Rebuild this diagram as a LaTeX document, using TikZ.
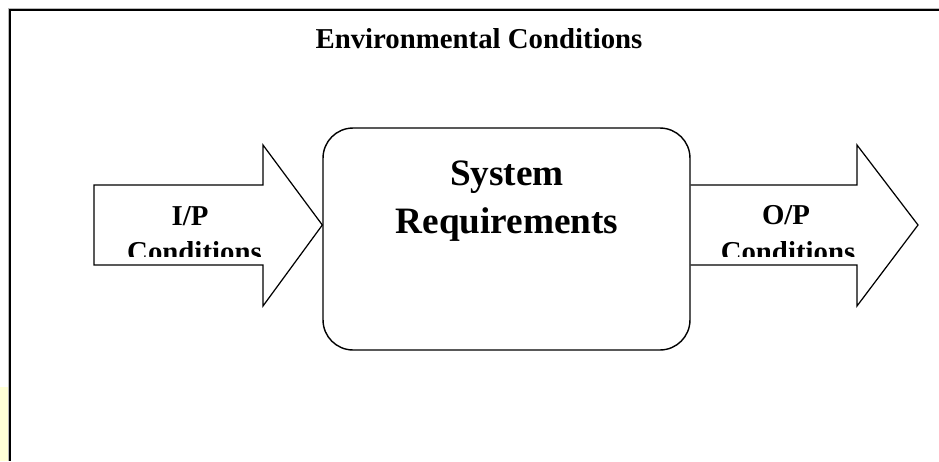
\documentclass[tikz,border=0pt]{standalone}
\usepackage{fontspec}
\setmainfont{Liberation Serif}
\usepackage{xcolor}
\definecolor{pagestrip}{RGB}{255,255,214}

\begin{document}
\begin{tikzpicture}[x=0.02cm,y=-0.02cm,
  blockarrow/.style={draw,line width=0.7pt,line join=miter},
  lbl/.style={anchor=base,inner sep=0pt,font=\bfseries\fontsize{16.4}{19}\selectfont},
  biglbl/.style={anchor=base,inner sep=0pt,font=\bfseries\fontsize{21.2}{25}\selectfont}]
\useasboundingbox (0,0) rectangle (939,461);
\fill[pagestrip] (0,387) rectangle (8,461);
% frame, only its top and left sides are on the page
\draw[gray!55,line width=0.6pt] (939,8.5) -- (8.5,8.5) -- (8.5,461);
\draw[line width=1.1pt] (939,10) -- (10,10) -- (10,461);
\node[lbl] (env) at (479,48) {Environmental Conditions};
% system box
\node[draw,line width=0.8pt,rounded corners=0.6cm,minimum width=7.34cm,minimum height=4.44cm] (sys) at (506.5,239) {};
\node[biglbl] (sysA) at (507,185) {System};
\node[biglbl] (sysB) at (507,233) {Requirements};
% input and output arrows
\draw[blockarrow] (94,185) -- (263,185) -- (263,145) -- (sys.west |- 0,225) -- (263,306) -- (263,265) -- (94,265) -- cycle;
\draw[blockarrow] (sys.east |- 0,185) -- (857,185) -- (857,145) -- (918,225) -- (857,306) -- (857,265) -- (sys.east |- 0,265);
\begin{scope}
\clip (0,186) rectangle (939,256);
\node[lbl] (ip) at (190,225) {I/P};
\node[lbl] (ipB) at (194.5,261) {Conditions};
\node[lbl] (op) at (786,224) {O/P};
\node[lbl] (opB) at (788,261) {Conditions};
\end{scope}
\end{tikzpicture}
\end{document}
